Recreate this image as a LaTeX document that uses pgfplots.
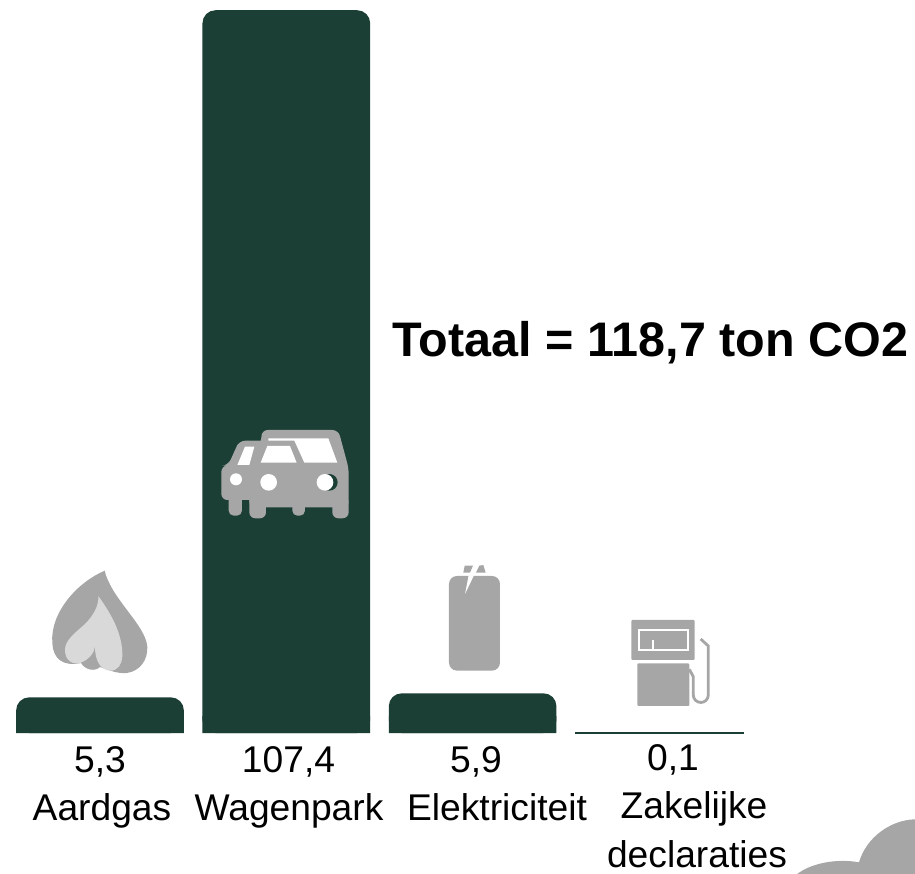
\documentclass[border=0pt]{standalone}
\usepackage{pgfplots}
\pgfplotsset{compat=1.18}
\usepackage{fontspec}
\setmainfont{Liberation Sans}
\definecolor{bar}{HTML}{1B3F35}
\definecolor{ico}{HTML}{A6A6A6}
\definecolor{icl}{HTML}{D9D9D9}
\begin{document}
\begin{tikzpicture}
\useasboundingbox (0,0) rectangle (915pt,874pt);
\begin{axis}[at={(0,0)},anchor=south west,
  width=915pt,height=874pt,scale only axis,
  axis lines=none,
  xmin=-0.5368,xmax=4.3745,ymin=-20.95,ymax=108.92,
  bar width=0.9,
  ytick=\empty,xtick=\empty]
\addplot[ybar,bar shift=0pt,fill=bar,draw=none,rounded corners=13pt] coordinates {(0,5.3)(1,107.4)(2,5.9)};
\addplot[ybar,bar shift=0pt,fill=bar,draw=none] coordinates {(0,2.5)(1,2.5)(2,2.5)};
\addplot[ybar,bar shift=0pt,fill=bar,draw=bar,line width=0.5pt] coordinates {(3,0.1)};
\end{axis}
\begin{scope}[x=1pt,y=-1pt,shift={(0,874pt)}]
\clip (0,0) rectangle (915,874);
% text
\def\lab#1#2#3{\node[anchor=base,inner sep=0pt,text=black] at (#1,#2) {\fontsize{37.2}{38}\selectfont #3};}
\lab{100}{772.5}{5,3}
\lab{288.5}{772.5}{107,4}
\lab{476}{772.5}{5,9}
\lab{673}{770.5}{0,1}
\lab{102}{821}{Aardgas}
\lab{289}{821}{Wagenpark}
\lab{497}{821}{Elektriciteit}
\lab{694}{819}{Zakelijke}
\lab{697}{868}{declaraties}
\node[anchor=base,inner sep=0pt,text=black] at (650.5,357) {\fontsize{48.5}{49}\selectfont\bfseries Totaal = 118,7 ton CO2};
% flame
\fill[ico] (104.7,570.7) .. controls (78,582) and (50,612) .. (52.3,643) .. controls (53,658) and (62,667) .. (81,663) .. controls (85,670) and (95,672) .. (100,667) .. controls (108,670) and (118,674) .. (127,673) .. controls (140,671) and (148,660) .. (147.3,646.7) .. controls (146,630) and (125,610) .. (113,590) .. controls (109,583) and (106,577) .. (104.7,570.7) -- cycle;
\fill[icl] (98.3,596) .. controls (99,606) and (93,616) .. (85,624) .. controls (75,633) and (65,640) .. (65,650) .. controls (65,660) and (72,665) .. (80,663) .. controls (88,660) and (94,654) .. (95,646.7) .. controls (95,660) and (100,670) .. (110,670.7) .. controls (118,671) and (122,664) .. (122.3,656.7) .. controls (123,635) and (112,615) .. (98.3,596) -- cycle;
% car (px = 190+x/3, 400+y/3)
\begin{scope}[shift={(190,400)},x=0.3333pt,y=-0.3333pt]
\fill[ico,rounded corners=6pt] (135,150) -- (148,122) -- (230,122) -- (230,300) -- (94,300) -- (94,198) -- (115,195) -- cycle;
\fill[ico,rounded corners=6pt] (215,90) -- (445,90) -- (476,205) -- (476,322) -- (178,322) -- (178,205) -- (215,120) -- cycle;
\fill[ico,rounded corners=5pt] (116,280) rectangle (156,347);
\fill[ico,rounded corners=6pt] (178,280) rectangle (228,355);
\fill[ico,rounded corners=5pt] (307,300) rectangle (345,347);
\fill[ico,rounded corners=6pt] (427,290) rectangle (476,355);
\fill[white] (235,115) -- (415,115) -- (442,188) -- (343,188) -- (313,122) -- (235,122) -- cycle;
\fill[white] (232,138) -- (300,138) -- (320,188) -- (212,188) -- cycle;
\fill[white] (165,140) -- (193,140) -- (178,195) -- (142,195) -- cycle;
\fill[bar] (418,247) circle[radius=25];
\fill[white] (405,247) circle[radius=25];
\fill[white] (236,247) circle[radius=25];
\fill[white] (138,238) circle[radius=18];
\end{scope}
% battery & pump (px = 380+x/3, 550+y/3)
\begin{scope}[shift={(380,550)},x=0.3333pt,y=-0.3333pt]
\fill[ico,rounded corners=8pt] (207,78) rectangle (360,362);
\fill[white] (255,132) -- (266,76) -- (282,76) -- cycle;
\fill[ico] (254,47) -- (279,47) -- (270,68) -- (250,68) -- cycle;
\fill[ico] (298,47) -- (310,45) -- (317,68) -- (288,68) -- cycle;
\fill[ico,rounded corners=1pt] (754,210) rectangle (944,330);
\draw[white,line width=2pt] (776,241) rectangle (923,301);
\draw[white,line width=2pt] (818,270) -- (818,300);
\fill[ico,rounded corners=1pt] (772,340) rectangle (928,468);
\draw[ico,line width=2.8pt] (962,267) -- (985,288) -- (985,435) arc[start angle=0,end angle=180,x radius=22.5,y radius=22.5] -- (940,380) -- (928,358);
\end{scope}
% cloud
\fill[ico] (797.3,874) .. controls (810,864) and (835,858) .. (859,862.3) .. controls (866,838) and (890,820) .. (915,819.3) -- (915,874) -- cycle;
\end{scope}
\end{tikzpicture}
\end{document}
